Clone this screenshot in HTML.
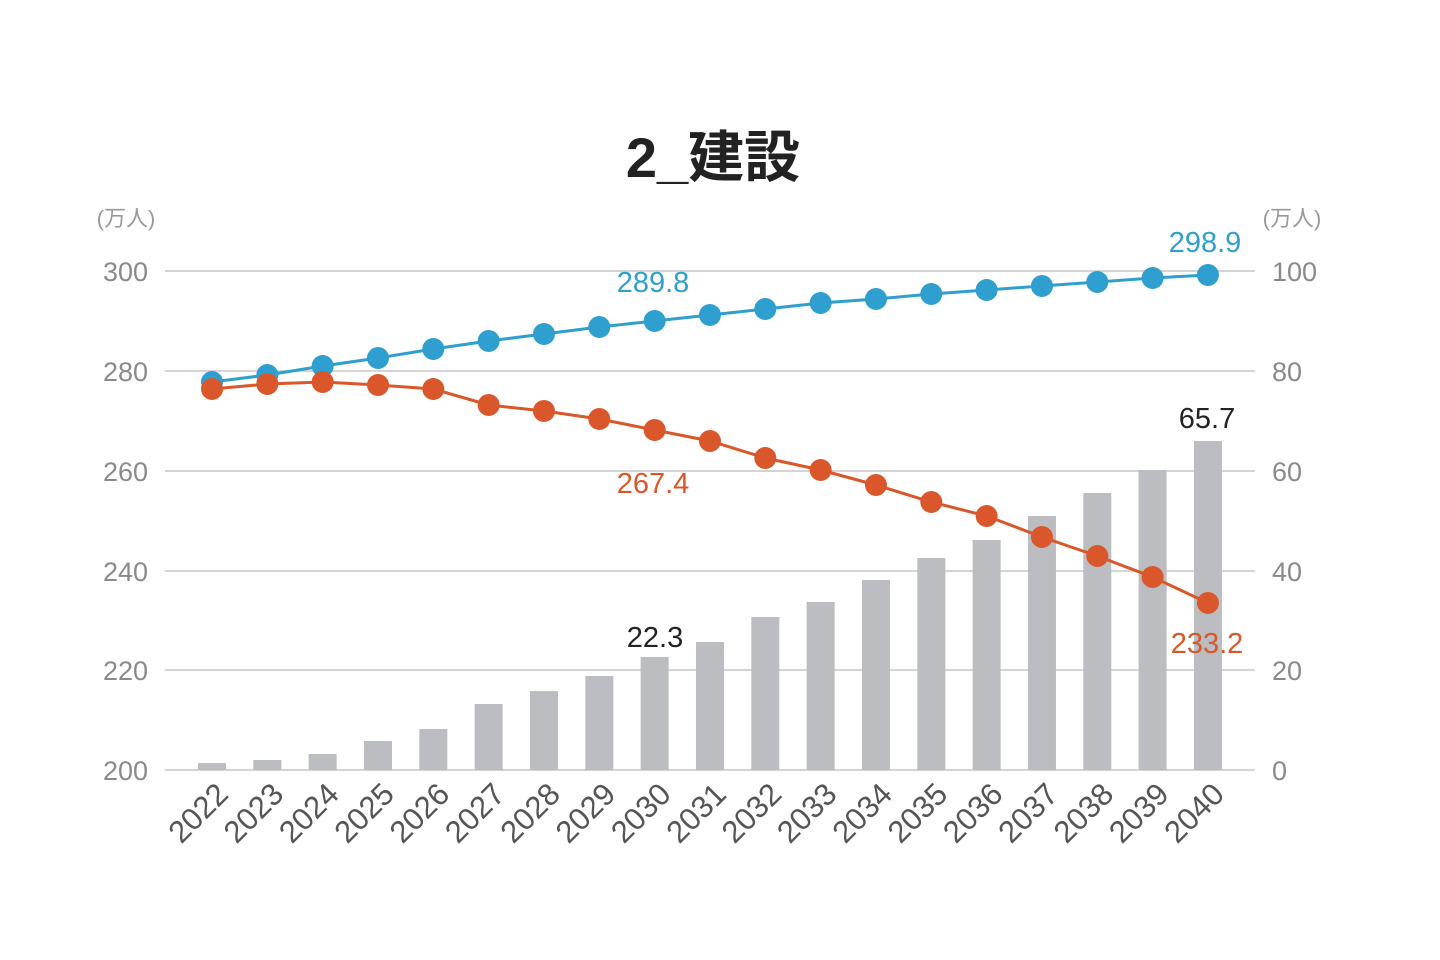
<!DOCTYPE html>
<html><head><meta charset="utf-8"><style>
html,body{margin:0;padding:0;background:#fff;}
svg{display:block;font-family:"Liberation Sans","Noto Sans CJK JP",sans-serif;}
</style></head><body>
<svg width="1440" height="960" viewBox="0 0 1440 960" xmlns="http://www.w3.org/2000/svg">
<text x="713" y="177" text-anchor="middle" font-size="56" font-weight="bold" fill="#222" font-family="'Liberation Sans','Noto Sans CJK JP',sans-serif">2_建設</text>
<text x="126" y="226" text-anchor="middle" font-size="22" fill="#999">(万人)</text>
<text x="1292" y="226" text-anchor="middle" font-size="22" fill="#999">(万人)</text>
<g stroke="#d4d4d4" stroke-width="2">
<line x1="165" y1="271" x2="1255" y2="271"/><line x1="165" y1="371" x2="1255" y2="371"/>
<line x1="165" y1="471" x2="1255" y2="471"/><line x1="165" y1="571" x2="1255" y2="571"/>
<line x1="165" y1="670" x2="1255" y2="670"/><line x1="165" y1="770" x2="1255" y2="770"/>
</g>
<g font-size="27" fill="#8a8a8a" text-anchor="end">
<text x="148" y="281">300</text><text x="148" y="381">280</text><text x="148" y="481">260</text>
<text x="148" y="581">240</text><text x="148" y="680">220</text><text x="148" y="780">200</text>
</g>
<g font-size="27" fill="#8a8a8a" text-anchor="start">
<text x="1272" y="281">100</text><text x="1272" y="381">80</text><text x="1272" y="481">60</text>
<text x="1272" y="581">40</text><text x="1272" y="680">20</text><text x="1272" y="780">0</text>
</g>
<g id="bars" fill="#bcbdc0"></g>
<g id="xl" font-size="31" fill="#555" text-anchor="end"></g>
<polyline id="bl" fill="none" stroke="#2e9fcf" stroke-width="3"/>
<polyline id="ol" fill="none" stroke="#d9572a" stroke-width="3"/>
<g id="bd" fill="#2e9fcf"></g>
<g id="od" fill="#d9572a"></g>
<g font-size="29">
<text x="653" y="292" text-anchor="middle" fill="#2e9fcf">289.8</text>
<text x="1205" y="252" text-anchor="middle" fill="#2e9fcf">298.9</text>
<text x="653" y="493" text-anchor="middle" fill="#d9572a">267.4</text>
<text x="1207" y="653" text-anchor="middle" fill="#d9572a">233.2</text>
<text x="655" y="647" text-anchor="middle" fill="#222">22.3</text>
<text x="1207" y="428" text-anchor="middle" fill="#222">65.7</text>
</g>
<script>
var ns="http://www.w3.org/2000/svg";
var bt=[763,760,754,741,729,704,691,676,657,642,617,602,580,558,540,516,493,470,441];
var by=[382,375,366,358,349,341,334,327,321,315,309,303,299,294,290,286,282,278,275];
var oy=[389,384,382,385,389,405,411,419,430,441,458,470,485,502,516,537,556,577,603];
var bp=[],op=[];
for(var i=0;i<19;i++){
 var x=212+i*55.33;
 var r=document.createElementNS(ns,"rect");r.setAttribute("x",x-14);r.setAttribute("y",bt[i]);r.setAttribute("width",28);r.setAttribute("height",770-bt[i]);document.getElementById("bars").appendChild(r);
 var t=document.createElementNS(ns,"text");t.setAttribute("transform","translate("+(x+18)+",796) rotate(-45)");t.textContent=2022+i;document.getElementById("xl").appendChild(t);
 bp.push(x+","+by[i]);op.push(x+","+oy[i]);
 var c=document.createElementNS(ns,"circle");c.setAttribute("cx",x);c.setAttribute("cy",by[i]);c.setAttribute("r",11);document.getElementById("bd").appendChild(c);
 c=document.createElementNS(ns,"circle");c.setAttribute("cx",x);c.setAttribute("cy",oy[i]);c.setAttribute("r",11);document.getElementById("od").appendChild(c);
}
document.getElementById("bl").setAttribute("points",bp.join(" "));
document.getElementById("ol").setAttribute("points",op.join(" "));
</script>
</svg>
</body></html>
